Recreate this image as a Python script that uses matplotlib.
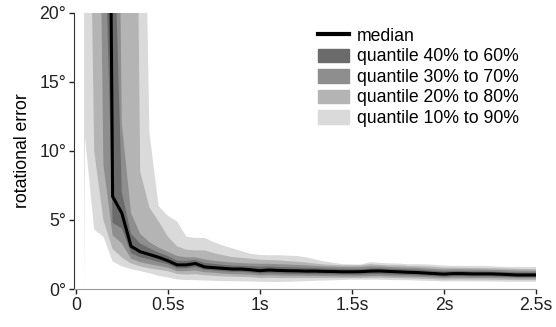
import matplotlib
matplotlib.use("Agg")
import matplotlib.pyplot as plt
from matplotlib.lines import Line2D
from matplotlib.patches import Patch

plt.rcParams['font.family'] = ['Liberation Sans', 'DejaVu Sans']

# sample times (s)
t = [0.045, 0.05, 0.10, 0.15, 0.20, 0.25, 0.30, 0.35, 0.40, 0.45, 0.50,
     0.55, 0.60, 0.65, 0.70, 0.75, 0.80, 0.85, 0.90, 0.95, 1.00,
     1.05, 1.10, 1.15, 1.20, 1.25, 1.30, 1.35, 1.40, 1.45, 1.50,
     1.55, 1.60, 1.65, 1.70, 1.75, 1.80, 1.85, 1.90, 1.95, 2.00,
     2.05, 2.10, 2.15, 2.20, 2.25, 2.30, 2.35, 2.40, 2.45, 2.50]

# rotational error in degrees (values above 20 run off the top)
median = [90, 90, 90, 90, 6.7, 5.5, 3.1, 2.7, 2.5, 2.3, 2.05,
          1.75, 1.75, 1.85, 1.6, 1.55, 1.5, 1.45, 1.45, 1.4, 1.33,
          1.38, 1.35, 1.33, 1.32, 1.3, 1.3, 1.28, 1.27, 1.25, 1.25,
          1.26, 1.3, 1.31, 1.28, 1.25, 1.22, 1.2, 1.16, 1.12, 1.08,
          1.12, 1.12, 1.1, 1.1, 1.1, 1.08, 1.05, 1.02, 1.02, 1.02]
q40 = [90, 90, 90, 30, 4.8, 4.4, 2.6, 2.3, 2.15, 1.95, 1.8,
       1.5, 1.5, 1.6, 1.4, 1.35, 1.3, 1.25, 1.25, 1.2, 1.12,
       1.15, 1.12, 1.1, 1.1, 1.08, 1.08, 1.07, 1.06, 1.05, 1.05,
       1.05, 1.08, 1.09, 1.06, 1.04, 1.02, 1.0, 0.97, 0.94, 0.9,
       0.93, 0.93, 0.92, 0.92, 0.92, 0.9, 0.88, 0.86, 0.86, 0.86]
q60 = [90, 90, 90, 90, 30, 7.0, 4.0, 3.3, 2.95, 2.65, 2.4,
       2.05, 2.05, 2.1, 1.9, 1.82, 1.75, 1.7, 1.68, 1.65, 1.62,
       1.64, 1.6, 1.58, 1.56, 1.54, 1.52, 1.5, 1.48, 1.46, 1.45,
       1.45, 1.5, 1.5, 1.47, 1.45, 1.42, 1.4, 1.36, 1.32, 1.28,
       1.3, 1.3, 1.28, 1.28, 1.27, 1.25, 1.23, 1.21, 1.2, 1.2]
q30 = [90, 90, 62, 9.0, 3.9, 3.3, 2.2, 1.95, 1.8, 1.68, 1.55,
       1.3, 1.3, 1.35, 1.22, 1.18, 1.12, 1.08, 1.07, 1.04, 0.98,
       1.0, 0.98, 0.96, 0.96, 0.95, 0.95, 0.94, 0.93, 0.92, 0.92,
       0.92, 0.94, 0.95, 0.93, 0.91, 0.9, 0.88, 0.86, 0.83, 0.8,
       0.82, 0.82, 0.81, 0.81, 0.81, 0.8, 0.78, 0.77, 0.77, 0.77]
q70 = [90, 90, 90, 90, 69, 12, 5.5, 4.0, 3.4, 3.0, 2.7,
       2.4, 2.3, 2.3, 2.15, 2.05, 1.98, 1.92, 1.88, 1.85, 1.83,
       1.83, 1.8, 1.78, 1.75, 1.72, 1.68, 1.64, 1.62, 1.6, 1.6,
       1.6, 1.65, 1.64, 1.6, 1.58, 1.55, 1.53, 1.5, 1.46, 1.42,
       1.43, 1.43, 1.42, 1.41, 1.4, 1.38, 1.36, 1.34, 1.33, 1.32]
q20 = [90, 54, 10, 5.0, 2.9, 2.3, 1.85, 1.65, 1.5, 1.4, 1.3,
       1.1, 1.05, 1.08, 1.0, 0.96, 0.92, 0.9, 0.88, 0.86, 0.8,
       0.82, 0.8, 0.8, 0.8, 0.8, 0.8, 0.8, 0.8, 0.8, 0.8,
       0.8, 0.82, 0.82, 0.8, 0.79, 0.78, 0.76, 0.74, 0.71, 0.68,
       0.7, 0.7, 0.69, 0.69, 0.68, 0.67, 0.66, 0.65, 0.65, 0.65]
q80 = [90, 90, 90, 90, 90, 90, 70, 8.5, 5.9, 4.9, 3.8,
       3.1, 2.85, 2.8, 2.8, 2.6, 2.45, 2.32, 2.26, 2.2, 2.12,
       2.1, 2.08, 2.02, 1.98, 1.92, 1.85, 1.78, 1.74, 1.72, 1.72,
       1.72, 1.8, 1.76, 1.72, 1.72, 1.68, 1.66, 1.64, 1.6, 1.55,
       1.55, 1.54, 1.53, 1.52, 1.51, 1.5, 1.48, 1.46, 1.45, 1.44]
q10 = [0, 11, 4.3, 3.8, 2.0, 1.65, 1.45, 1.3, 1.15, 0.95, 0.85,
       0.7, 0.65, 0.65, 0.62, 0.6, 0.58, 0.57, 0.56, 0.55, 0.53,
       0.52, 0.52, 0.53, 0.55, 0.58, 0.6, 0.62, 0.64, 0.66, 0.68,
       0.68, 0.68, 0.68, 0.66, 0.65, 0.64, 0.62, 0.6, 0.58, 0.55,
       0.56, 0.56, 0.55, 0.55, 0.55, 0.54, 0.53, 0.53, 0.53, 0.53]
q90 = [90, 90, 90, 90, 90, 90, 90, 49, 11.3, 6.0, 5.3,
       4.9, 3.8, 3.7, 3.7, 3.4, 3.15, 2.95, 2.75, 2.55, 2.47,
       2.45, 2.45, 2.42, 2.4, 2.3, 2.15, 2.0, 1.9, 1.8, 1.78,
       1.78, 1.95, 1.9, 1.86, 1.85, 1.8, 1.8, 1.79, 1.75, 1.7,
       1.68, 1.68, 1.68, 1.68, 1.66, 1.62, 1.6, 1.6, 1.6, 1.6]

xticks = [0, 0.5, 1, 1.5, 2, 2.5]
xlabels = ['0', '0.5s', '1s', '1.5s', '2s', '2.5s']
yticks = [0, 5, 10, 15, 20]
ylabels = ['0°', '5°', '10°', '15°', '20°']

c10, c20, c30, c40 = '#dadada', '#b4b4b4', '#8e8e8e', '#6b6b6b'

fig = plt.figure(figsize=(5.56, 3.27), dpi=100)
ax = fig.add_axes([0.133, 0.116, 0.831, 0.845])

ax.fill_between(t, q10, q90, color=c10, lw=0)
ax.fill_between(t, q20, q80, color=c20, lw=0)
ax.fill_between(t, q30, q70, color=c30, lw=0)
ax.fill_between(t, q40, q60, color=c40, lw=0)
ax.plot(t, median, color='black', lw=2.2)

ax.set_xlim(-0.01, 2.5)
ax.set_ylim(0, 20)
ax.set_xticks(xticks)
ax.set_xticklabels(xlabels)
ax.set_yticks(yticks)
ax.set_yticklabels(ylabels)
ax.tick_params(labelsize=12.7, length=3.5, width=1, pad=2, colors='#222222')
ax.set_ylabel('rotational error', fontsize=12.7, labelpad=6)

for s in ['top', 'right']:
    ax.spines[s].set_visible(False)
ax.spines['left'].set_color('#333333')
ax.spines['bottom'].set_color('#999999')

handles = [Line2D([], [], color='black', lw=3),
           Patch(color=c40), Patch(color=c30), Patch(color=c20), Patch(color=c10)]
names = ['median', 'quantile 40% to 60%', 'quantile 30% to 70%',
         'quantile 20% to 80%', 'quantile 10% to 90%']
ax.legend(handles, names, loc='upper right', bbox_to_anchor=(0.99, 0.99),
          frameon=False, fontsize=12.7, handlelength=1.75, handleheight=0.8,
          handletextpad=0.45, labelspacing=0.2, borderpad=0.2)

fig.savefig('out.png', dpi=100)
